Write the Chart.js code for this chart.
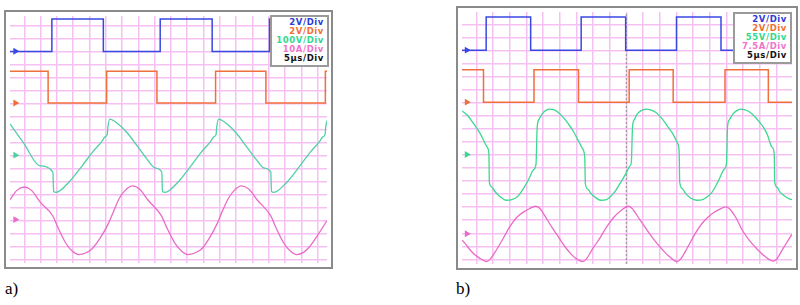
<!DOCTYPE html>
<html>
<head>
<meta charset="utf-8">
<script src="https://cdn.jsdelivr.net/npm/chart.js@4/dist/chart.umd.min.js"></script>
<style>
body { margin: 0; width: 800px; height: 305px; background: #fff; position: relative; overflow: hidden; }
.scope { position: absolute; border: 2px solid #8a8a8a; background: #fff; }
.scope canvas { display: block; }
.box { position: absolute; background: #fff; border: 2px solid #9a9a9a; text-align: right;
  font: bold 8.5px "DejaVu Sans", sans-serif; line-height: 9px; letter-spacing: 0.6px; padding: 1px 3px 2px 0; }
.lbl { position: absolute; font: 17px "Liberation Serif", serif; color: #000; }
</style>
</head>
<body>

<div class="scope" id="scopeA" style="left:4px; top:10px;"><canvas id="chartA" width="325" height="255"></canvas></div>
<div class="scope" id="scopeB" style="left:456px; top:6px;"><canvas id="chartB" width="338" height="260"></canvas></div>

<div class="box" style="left:270px; top:15px; width:52px;">
	<div style="color:#2b3ad6">2V/Div</div>
	<div style="color:#f07034">2V/Div</div>
	<div style="color:#34d88c">100V/Div</div>
	<div style="color:#f272cc">10A/Div</div>
	<div style="color:#111">5µs/Div</div>
</div>
<div class="box" style="left:733px; top:12px; width:52px;">
	<div style="color:#2b3ad6">2V/Div</div>
	<div style="color:#f07034">2V/Div</div>
	<div style="color:#34d88c">55V/Div</div>
	<div style="color:#f272cc">7.5A/Div</div>
	<div style="color:#111">5µs/Div</div>
</div>

<div class="lbl" style="left:5px; top:279px;">a)</div>
<div class="lbl" style="left:456px; top:279px;">b)</div>

<script>
"use strict";
// all values in grid divisions: x from first vertical line, y up from bottom line

// ---- a) ----
const aBlueT = [-0.88, 1.69, 4.85, 8.34, 11.53, 15.05, 18.16, 18.58];
const aBlueV = [16.0, 18.5, 16.0, 18.5, 16.0, 18.5, 16.0, 16.0];
const aOrangeT = [-0.88, 1.46, 5.05, 8.14, 11.74, 14.83, 18.48, 18.58];
const aOrangeV = [14.48, 12.04, 14.48, 12.04, 14.48, 12.04, 14.48, 14.48];
const aGreenX = [-0.88, -0.04, 0.96, 1.75, 1.80, 1.95, 2.75, 3.55, 4.15, 4.75, 4.95, 5.09, 5.13, 5.25, 5.75, 6.35, 6.95, 7.54, 8.04,
	8.44, 8.48, 8.64, 9.44, 10.23, 10.83, 11.43, 11.63, 11.77, 11.81, 11.93, 12.43, 13.03, 13.63, 14.23, 14.72,
	15.13, 15.17, 15.32, 16.13, 16.92, 17.52, 18.12, 18.32, 18.46, 18.50, 18.58];
const aGreenY = [10.43, 8.94, 7.20, 6.71, 5.22, 5.16, 5.96, 7.20, 8.20, 9.06, 9.43, 9.60, 10.18, 10.80, 10.43, 9.69, 8.69, 7.70, 7.03,
	6.71, 5.22, 5.16, 5.96, 7.20, 8.20, 9.06, 9.43, 9.60, 10.18, 10.80, 10.43, 9.69, 8.69, 7.70, 7.03,
	6.71, 5.22, 5.16, 5.96, 7.20, 8.20, 9.06, 9.43, 9.60, 10.18, 10.68];
const aPinkX = [-0.88, -0.46, 0.00, 0.44, 0.96, 1.75, 2.05, 2.55, 2.95, 3.35, 3.79, 4.15, 4.63, 5.15, 5.47, 5.84, 6.19, 6.65,
	7.08, 7.59, 8.40, 8.73, 9.24, 9.66, 10.04, 10.50, 10.93, 11.34, 11.83, 12.17, 12.54, 12.89, 13.33,
	13.79, 14.30, 15.11, 15.43, 15.93, 16.34, 16.72, 17.14, 17.52, 17.98, 18.58];
const aPinkY = [4.59, 5.31, 5.57, 5.31, 4.42, 3.34, 2.49, 1.24, 0.62, 0.37, 0.51, 0.80, 1.59, 2.73, 3.67, 4.72, 5.31, 5.65,
	5.39, 4.57, 3.38, 2.48, 1.25, 0.62, 0.37, 0.51, 0.86, 1.59, 2.73, 3.75, 4.72, 5.31, 5.65,
	5.39, 4.57, 3.38, 2.49, 1.24, 0.62, 0.37, 0.54, 0.99, 1.81, 2.98];
const aMarkY = [16.02, 12.04, 8.02, 3.06];

// ---- b) ----
const bBlueT = [-0.86, 0.59, 3.26, 6.29, 8.96, 12.01, 14.68, 18.94];
const bBlueV = [16.02, 18.55, 16.02, 18.55, 16.02, 18.55, 16.02, 16.02];
const bOrangeT = [-0.86, 0.43, 3.46, 6.13, 9.17, 11.81, 14.92, 17.52, 18.94];
const bOrangeV = [14.51, 12.04, 14.51, 12.04, 14.51, 12.04, 14.51, 12.04, 12.04];
const bGreenX = [-0.84, -0.51, -0.16, 0.25, 0.62, 0.74, 0.76, 0.78, 0.91, 1.13, 1.41, 1.79, 2.13, 2.48, 2.83, 3.16, 3.42, 3.58,
	3.65, 3.77, 3.94, 4.18, 4.43, 4.67, 4.92, 5.23, 5.51, 5.82, 6.09, 6.34, 6.47, 6.51, 6.54, 6.70, 6.87, 7.16,
	7.46, 7.81, 8.24, 8.57, 9.02, 9.20, 9.30, 9.37, 9.48, 9.63, 9.86, 10.19, 10.45, 10.78, 11.09, 11.32, 11.56,
	11.85, 12.06, 12.16, 12.18, 12.20, 12.35, 12.54, 12.85, 13.22, 13.61, 14.10, 14.49, 14.88, 15.01, 15.07,
	15.19, 15.37, 15.60, 15.85, 16.13, 16.44, 16.77, 17.01, 17.22, 17.47, 17.71, 17.86, 17.88, 17.90, 18.06,
	18.20, 18.47, 18.78, 18.94];
const bGreenY = [11.37, 11.00, 10.39, 9.59, 8.65, 8.26, 7.81, 5.93, 5.56, 5.18, 4.82, 4.53, 4.58, 4.82, 5.44, 6.18, 6.85, 7.29,
	10.13, 10.74, 11.13, 11.41, 11.50, 11.45, 11.25, 10.85, 10.39, 9.81, 9.15, 8.55, 8.16, 7.66, 5.81, 5.36, 5.07, 4.73,
	4.53, 4.58, 5.07, 5.70, 6.68, 7.14, 7.42, 10.13, 10.70, 11.08, 11.37, 11.50, 11.45, 11.25, 10.85, 10.48, 10.04,
	9.48, 8.92, 8.41, 7.66, 5.93, 5.44, 5.07, 4.70, 4.53, 4.60, 5.07, 5.92, 6.92, 7.37, 10.13,
	10.70, 11.08, 11.37, 11.50, 11.45, 11.25, 10.85, 10.48, 10.13, 9.52, 8.65, 8.26, 7.81, 5.93, 5.51,
	5.19, 4.88, 4.64, 4.58];
const bPinkX = [-0.84, -0.51, -0.16, 0.19, 0.62, 0.82, 1.21, 1.60, 1.99, 2.42, 2.87, 3.18, 3.55, 3.80, 4.12, 4.53, 4.92, 5.31,
	5.70, 5.99, 6.39, 6.58, 6.99, 7.46, 7.81, 8.24, 8.63, 9.12, 9.33, 9.80, 10.39, 10.80, 11.17, 11.56, 12.04,
	12.24, 12.67, 13.12, 13.55, 14.10, 14.55, 14.98, 15.19, 15.57, 15.96, 16.37, 16.84, 17.31, 17.81, 18.00,
	18.41, 18.84, 18.94];
const bPinkY = [1.48, 0.95, 0.43, 0.10, -0.16, 0.00, 0.74, 1.58, 2.47, 3.21, 3.66, 3.88, 4.07, 3.92, 3.32, 2.47, 1.73, 0.99,
	0.39, 0.06, -0.16, 0.00, 0.84, 1.73, 2.47, 3.21, 3.69, 4.07, 3.92, 3.06, 1.97, 1.28, 0.74, 0.24, -0.16,
	0.00, 0.91, 1.95, 2.77, 3.46, 3.81, 4.03, 3.88, 3.21, 2.23, 1.47, 0.80, 0.24, -0.13, 0.00,
	0.84, 1.73, 1.91];
const bMarkY = [16.02, 12.04, 8.03, 1.97];
const bCursorX = 9;

const BLUE = "#3a48e2";
const ORANGE = "#f0703c";
const PINK = "#e86cc8";

function pts(xs, ys) {
	return xs.map(function(x, i) { return {x: x, y: ys[i]}; });
}

function square(xs, ys, color) {
	return { data: pts(xs, ys), borderColor: color, borderWidth: 1.5, stepped: true, pointRadius: 0, fill: false };
}

function wave(xs, ys, color) {
	return { data: pts(xs, ys), borderColor: color, borderWidth: 1.3, cubicInterpolationMode: "monotone", pointRadius: 0, fill: false };
}

function markers(x, ys, greenColor) {
	return {
		data: ys.map(function(y) { return {x: x, y: y}; }),
		showLine: false,
		pointStyle: "triangle",
		rotation: 90,
		pointRadius: 4,
		pointBorderWidth: 0,
		pointBackgroundColor: [BLUE, ORANGE, greenColor, PINK]
	};
}

function axis(min, max) {
	return {
		type: "linear",
		min: min,
		max: max,
		ticks: { display: false, stepSize: 1, includeBounds: false },
		grid: { color: "#f6c0f2", lineWidth: 1.5, drawTicks: false },
		border: { display: false }
	};
}

function options(xmin, xmax, ymin, ymax) {
	return {
		responsive: false,
		animation: false,
		events: [],
		layout: { padding: 0 },
		plugins: { legend: { display: false }, tooltip: { enabled: false } },
		scales: { x: axis(xmin, xmax), y: axis(ymin, ymax) }
	};
}

// a) chart
let chartA = new Chart(document.getElementById("chartA"), {
	type: "line",
	data: {
		datasets: [
			markers(-0.55, aMarkY, "#48d49a"),
			square(aBlueT, aBlueV, BLUE),
			square(aOrangeT, aOrangeV, ORANGE),
			wave(aGreenX, aGreenY, "#52cfa6"),
			wave(aPinkX, aPinkY, PINK)
		]
	},
	options: options(-0.88, 18.58, -0.28, 18.73)
});

// b) chart, with the dotted cursor
let chartB = new Chart(document.getElementById("chartB"), {
	type: "line",
	data: {
		datasets: [
			markers(-0.57, bMarkY, "#3ad88e"),
			square(bBlueT, bBlueV, BLUE),
			square(bOrangeT, bOrangeV, ORANGE),
			wave(bGreenX, bGreenY, "#3ed890"),
			wave(bPinkX, bPinkY, PINK),
			{
				data: [{x: bCursorX, y: -0.35}, {x: bCursorX, y: 18.94}],
				borderColor: "#9a9a9a",
				borderWidth: 1.2,
				borderDash: [2, 2],
				pointRadius: 0
			}
		]
	},
	options: options(-0.86, 18.94, -0.35, 18.94)
});
</script>
</body>
</html>
